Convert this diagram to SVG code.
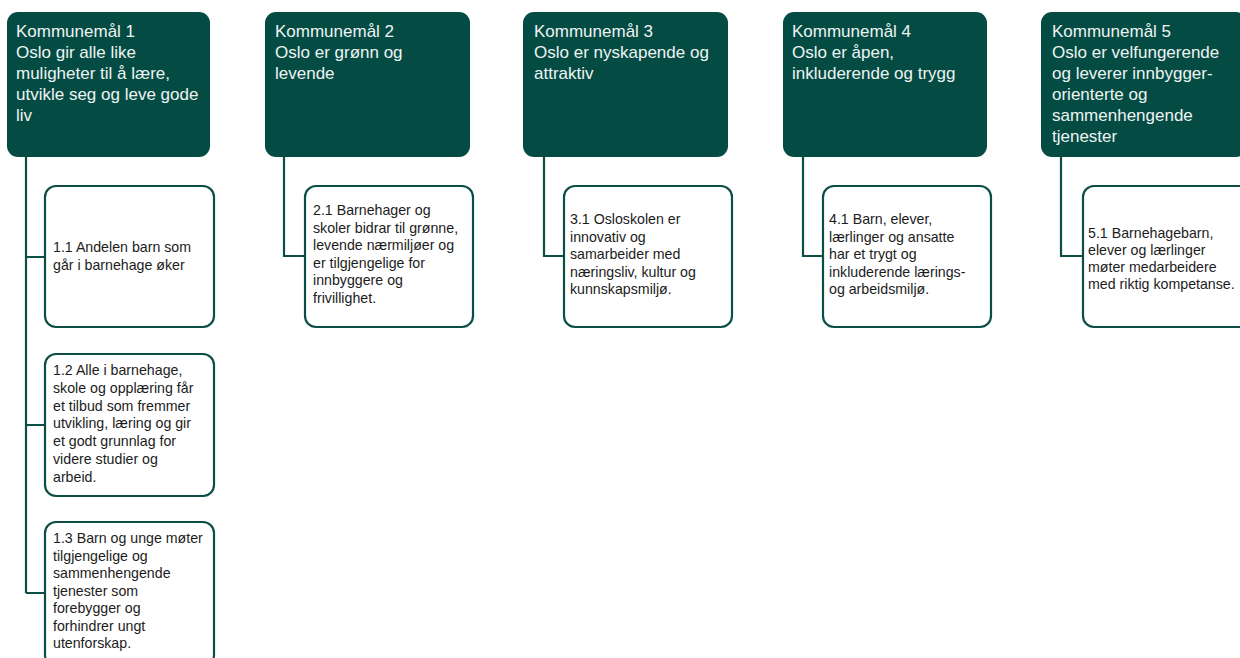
<svg xmlns="http://www.w3.org/2000/svg" width="1240" height="658" viewBox="0 0 1240 658">
<style>
.hd{fill:#044b43;}
.ht{font-family:"Liberation Sans",Arial,sans-serif;font-size:17px;fill:#eef4f2;}
.cb{fill:#ffffff;stroke:#0b4e45;stroke-width:2.2;}
.ct{font-family:"Liberation Sans",Arial,sans-serif;font-size:14.2px;fill:#1c1c1c;}
.cn{fill:none;stroke:#0b4e45;stroke-width:2.2;}
</style>
<rect width="1240" height="658" fill="#ffffff"/>
<g id="connectors">
<path class="cn" d="M26 156 V593 M26 257 H45 M26 425 H45 M26 593 H45"/>
<path class="cn" d="M284 156 V256 H305"/>
<path class="cn" d="M544 156 V256 H564"/>
<path class="cn" d="M803 156 V256 H823"/>
<path class="cn" d="M1061 156 V256 H1083"/>
</g>
<g id="k1">
<rect class="hd" x="7" y="12" width="203" height="145" rx="11"/>
<text class="ht" x="16"><tspan x="16" y="37">Kommunemål 1</tspan><tspan x="16" y="58">Oslo gir alle like</tspan><tspan x="16" y="79">muligheter til å lære,</tspan><tspan x="16" y="100">utvikle seg og leve gode</tspan><tspan x="16" y="121">liv</tspan></text>
</g>
<g id="k2">
<rect class="hd" x="265" y="12" width="205" height="145" rx="11"/>
<text class="ht"><tspan x="275" y="37">Kommunemål 2</tspan><tspan x="275" y="58">Oslo er grønn og</tspan><tspan x="275" y="79">levende</tspan></text>
</g>
<g id="k3">
<rect class="hd" x="523" y="12" width="205" height="145" rx="11"/>
<text class="ht"><tspan x="534" y="37">Kommunemål 3</tspan><tspan x="534" y="58">Oslo er nyskapende og</tspan><tspan x="534" y="79">attraktiv</tspan></text>
</g>
<g id="k4">
<rect class="hd" x="783" y="12" width="204" height="145" rx="11"/>
<text class="ht"><tspan x="792" y="37">Kommunemål 4</tspan><tspan x="792" y="58">Oslo er åpen,</tspan><tspan x="792" y="79">inkluderende og trygg</tspan></text>
</g>
<g id="k5">
<rect class="hd" x="1041" y="12" width="206" height="145" rx="11"/>
<text class="ht"><tspan x="1052" y="37">Kommunemål 5</tspan><tspan x="1052" y="58">Oslo er velfungerende</tspan><tspan x="1052" y="79">og leverer innbygger-</tspan><tspan x="1052" y="100">orienterte og</tspan><tspan x="1052" y="121">sammenhengende</tspan><tspan x="1052" y="142">tjenester</tspan></text>
</g>
<g id="m11">
<rect class="cb" x="45" y="186" width="169" height="141" rx="11"/>
<text class="ct"><tspan x="53" y="252">1.1 Andelen barn som</tspan><tspan x="53" y="269.5">går i barnehage øker</tspan></text>
</g>
<g id="m12">
<rect class="cb" x="45" y="354" width="169" height="142" rx="11"/>
<text class="ct"><tspan x="53" y="375">1.2 Alle i barnehage,</tspan><tspan x="53" y="392.8">skole og opplæring får</tspan><tspan x="53" y="410.6">et tilbud som fremmer</tspan><tspan x="53" y="428.4">utvikling, læring og gir</tspan><tspan x="53" y="446.2">et godt grunnlag for</tspan><tspan x="53" y="464">videre studier og</tspan><tspan x="53" y="481.8">arbeid.</tspan></text>
</g>
<g id="m13">
<rect class="cb" x="45" y="522" width="169" height="144" rx="11"/>
<text class="ct"><tspan x="53" y="543">1.3 Barn og unge møter</tspan><tspan x="53" y="560.5">tilgjengelige og</tspan><tspan x="53" y="578">sammenhengende</tspan><tspan x="53" y="595.5">tjenester som</tspan><tspan x="53" y="613">forebygger og</tspan><tspan x="53" y="630.5">forhindrer ungt</tspan><tspan x="53" y="648">utenforskap.</tspan></text>
</g>
<g id="m21">
<rect class="cb" x="305" y="186" width="168" height="141" rx="11"/>
<text class="ct"><tspan x="313" y="215">2.1 Barnehager og</tspan><tspan x="313" y="232.6">skoler bidrar til grønne,</tspan><tspan x="313" y="250.2">levende nærmiljøer og</tspan><tspan x="313" y="267.8">er tilgjengelige for</tspan><tspan x="313" y="285.4">innbyggere og</tspan><tspan x="313" y="303">frivillighet.</tspan></text>
</g>
<g id="m31">
<rect class="cb" x="564" y="186" width="168" height="141" rx="11"/>
<text class="ct"><tspan x="570" y="224">3.1 Osloskolen er</tspan><tspan x="570" y="241.5">innovativ og</tspan><tspan x="570" y="259">samarbeider med</tspan><tspan x="570" y="276.5">næringsliv, kultur og</tspan><tspan x="570" y="294">kunnskapsmiljø.</tspan></text>
</g>
<g id="m41">
<rect class="cb" x="823" y="186" width="168" height="141" rx="11"/>
<text class="ct"><tspan x="829" y="224">4.1 Barn, elever,</tspan><tspan x="829" y="241.5">lærlinger og ansatte</tspan><tspan x="829" y="259">har et trygt og</tspan><tspan x="829" y="276.5">inkluderende lærings-</tspan><tspan x="829" y="294">og arbeidsmiljø.</tspan></text>
</g>
<g id="m51">
<rect class="cb" x="1083" y="186" width="168" height="141" rx="11"/>
<text class="ct"><tspan x="1088" y="238">5.1 Barnehagebarn,</tspan><tspan x="1088" y="255">elever og lærlinger</tspan><tspan x="1088" y="272">møter medarbeidere</tspan><tspan x="1088" y="289">med riktig kompetanse.</tspan></text>
</g>
</svg>
